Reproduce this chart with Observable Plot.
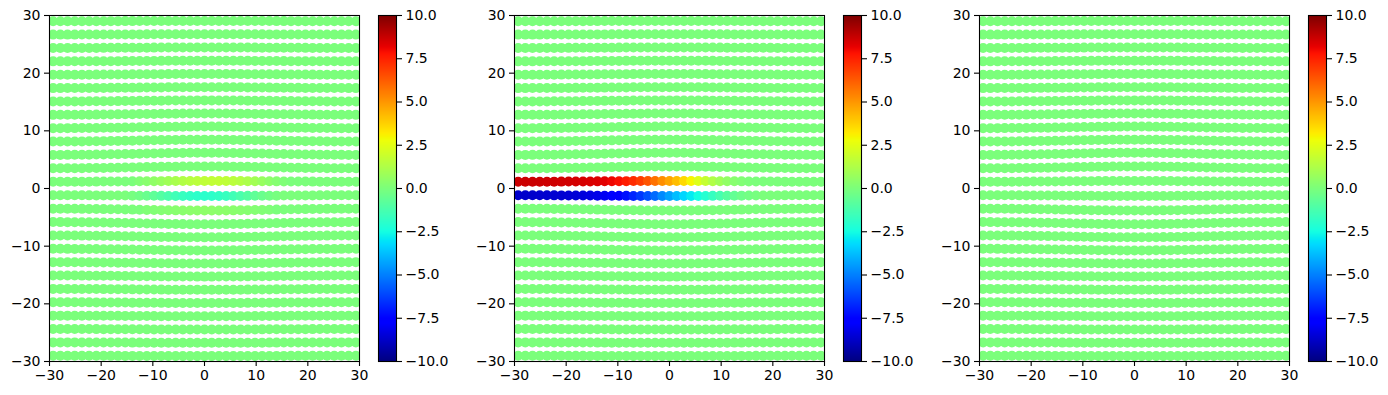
<!DOCTYPE html>
<html>
<head>
<meta charset="utf-8">
<script src="https://cdn.jsdelivr.net/npm/d3@7"></script>
<script src="https://cdn.jsdelivr.net/npm/@observablehq/plot@0.6"></script>
<style>
  html, body { margin: 0; padding: 0; background: #fff; }
  #fig { position: relative; width: 1388px; height: 395px; overflow: hidden; }
</style>
</head>
<body>
<div id="fig"></div>
<script>
// ---------------- data ----------------
const xs = [-29.30, -27.91, -26.51, -25.12, -23.72, -22.33, -20.93, -19.53, -18.14, -16.74,
            -15.35, -13.95, -12.56, -11.16, -9.77, -8.37, -6.98, -5.58, -4.19, -2.79,
            -1.40, 0.00, 1.40, 2.79, 4.19, 5.58, 6.98, 8.37, 9.77, 11.16,
            12.56, 13.95, 15.35, 16.74, 18.14, 19.53, 20.93, 22.33, 23.72, 25.12,
            26.51, 27.91, 29.30];
const rowsY = [29.0, 26.68, 24.36, 22.04, 19.72, 17.4, 15.08, 12.76, 10.44, 8.12, 5.8, 3.48, 1.16,
               -1.16, -3.48, -5.8, -8.12, -10.44, -12.76, -15.08, -17.4, -19.72, -22.04, -24.36, -26.68, -29.0];
// outward bulge of each row at x = 0 (data units), same order as rowsY
const rowBulge = [0.06, 0.08, 0.1, 0.12, 0.14, 0.17, 0.2, 0.25, 0.3, 0.35, 0.4, 0.35, 0.15,
                  -0.15, -0.35, -0.4, -0.35, -0.3, -0.25, -0.2, -0.17, -0.14, -0.12, -0.1, -0.08, -0.06];
// shape of the bulge along x (fraction of the row's bulge), same order as xs
const bulgeShape = [0.05,0.07,0.09,0.11,0.14,0.18,0.22,0.27,0.32,0.38, 0.44,0.51,0.58,0.65,0.72,0.78,0.84,0.89,0.94,0.97,
                    0.99,1,0.99,0.97,0.94,0.89,0.84,0.78,0.72,0.65, 0.58,0.51,0.44,0.38,0.32,0.27,0.22,0.18,0.14,0.11, 0.09,0.07,0.05];
const xTicks = [-30, -20, -10, 0, 10, 20, 30];
const yTicks = [-30, -20, -10, 0, 10, 20, 30];
const cbTicks = [-10, -7.5, -5, -2.5, 0, 2.5, 5, 7.5, 10];

// panel 1: non-zero rows
const p1Row_p116 = [0,0,0,0,0,0,0,0,0,0, 0,0,0.15,0.3,0.5,0.7,0.9,1.1,1.3,1.45,
                    1.55,1.65,1.7,1.7,1.65,1.55,1.4,1.2,0.95,0.7, 0.45,0.25,0.1,0,0,0,0,0,0,0, 0,0,0];
const p1Row_m116 = [0,0,0,0,0,0,0,0,0,0, 0,-0.1,-0.25,-0.45,-0.7,-0.95,-1.2,-1.45,-1.65,-1.8,
                    -1.9,-1.95,-1.9,-1.8,-1.65,-1.45,-1.2,-0.95,-0.7,-0.45, -0.25,-0.1,0,0,0,0,0,0,0,0, 0,0,0];
const p1Row_m348 = [0,0,0,0,0,0,0,0,0,0, 0,0,0,0.1,0.15,0.2,0.25,0.3,0.35,0.4,
                    0.4,0.45,0.45,0.4,0.4,0.35,0.3,0.25,0.2,0.15, 0.1,0,0,0,0,0,0,0,0,0, 0,0,0];
// panel 2: non-zero rows
const p2Row_p116 = [8.7,8.7,8.7,8.7,8.65,8.65,8.6,8.6,8.55,8.5, 8.45,8.4,8.3,8.1,7.9,7.6,7.3,6.9,6.4,5.8,
                    5.2,4.7,4.2,3.6,3.0,2.4,1.8,1.3,0.9,0.55, 0.3,0.15,0.05,0,0,0,0,0,0,0, 0,0,0];
const p2Row_m116 = [-8.7,-8.7,-8.7,-8.65,-8.65,-8.6,-8.6,-8.55,-8.5,-8.4, -8.3,-8.2,-8.0,-7.8,-7.5,-7.2,-6.8,-6.4,-5.9,-5.4,
                    -4.8,-4.3,-3.8,-3.3,-2.9,-2.5,-2.1,-1.7,-1.3,-0.9, -0.6,-0.35,-0.2,-0.1,0,0,0,0,0,0, 0,0,0];

const panels = [
  {left: 0,   rows: {"1.16": p1Row_p116, "-1.16": p1Row_m116, "-3.48": p1Row_m348}},
  {left: 465, rows: {"1.16": p2Row_p116, "-1.16": p2Row_m116}},
  {left: 930, rows: {}}
];

// ---------------- jet colormap (matplotlib segment data) ----------------
function seg(stops, t) {
  for (let i = 1; i < stops.length; i++) {
    if (t <= stops[i][0]) {
      const [t0, v0] = stops[i - 1], [t1, v1] = stops[i];
      return v0 + (v1 - v0) * (t - t0) / (t1 - t0);
    }
  }
  return stops[stops.length - 1][1];
}
const R = [[0,0],[0.35,0],[0.66,1],[0.89,1],[1,0.5]];
const G = [[0,0],[0.125,0],[0.375,1],[0.64,1],[0.91,0],[1,0]];
const B = [[0,0.5],[0.11,1],[0.34,1],[0.65,0],[1,0]];
function jet(t) {
  t = Math.max(0, Math.min(1, t));
  const c = v => Math.round(Math.max(0, Math.min(1, v)) * 255);
  return `rgb(${c(seg(R, t))},${c(seg(G, t))},${c(seg(B, t))})`;
}

// ---------------- layout ----------------
const fig = document.getElementById("fig");
const FONT = "'DejaVu Sans', sans-serif";
const H = 395, MT = 15, MB = 34;
const colorScale = {type: "linear", domain: [-10, 10], interpolate: jet};

for (const p of panels) {
  const data = [];
  rowsY.forEach((y, j) => {
    const vals = p.rows[String(y)];
    xs.forEach((x, i) => data.push({x, y: y + rowBulge[j] * bulgeShape[i], v: vals ? vals[i] : 0}));
  });
  const sc = Plot.plot({
    width: 360, height: H,
    marginLeft: 49, marginRight: 1, marginTop: MT, marginBottom: MB,
    style: {fontSize: "14px", fontFamily: FONT, color: "black", background: "transparent", overflow: "visible"},
    x: {domain: [-30, 30]},
    y: {domain: [-30, 30]},
    color: colorScale,
    marks: [
      Plot.dot(data, {x: "x", y: "y", fill: "v", r: 5, stroke: null, clip: true}),
      Plot.frame({stroke: "black", strokeWidth: 1.1}),
      Plot.axisX({ticks: xTicks, tickFormat: d3.format("d"), tickSize: 5, tickPadding: 4, label: null, strokeWidth: 1.1}),
      Plot.axisY({ticks: yTicks, tickFormat: d3.format("d"), tickSize: 5, tickPadding: 4, label: null, strokeWidth: 1.1})
    ]
  });
  sc.style.position = "absolute";
  sc.style.left = p.left + "px";
  sc.style.top = "0px";
  fig.appendChild(sc);

  const cb = Plot.plot({
    width: 80, height: H,
    marginLeft: 0, marginRight: 62, marginTop: MT, marginBottom: MB,
    style: {fontSize: "14px", fontFamily: FONT, color: "black", background: "transparent", overflow: "visible"},
    x: {domain: [0, 1], axis: null},
    y: {domain: [-10, 10], axis: null},
    color: colorScale,
    marks: [
      Plot.raster({x1: 0, x2: 1, y1: -10, y2: 10, width: 1, height: 512, fill: (x, y) => y}),
      Plot.frame({stroke: "black", strokeWidth: 1.1}),
      Plot.axisY({anchor: "right", ticks: cbTicks, tickFormat: d3.format(".1f"), tickSize: 5, tickPadding: 4, label: null, strokeWidth: 1.1})
    ]
  });
  cb.style.position = "absolute";
  cb.style.left = (p.left + 378) + "px";
  cb.style.top = "0px";
  fig.appendChild(cb);
}
</script>
</body>
</html>
